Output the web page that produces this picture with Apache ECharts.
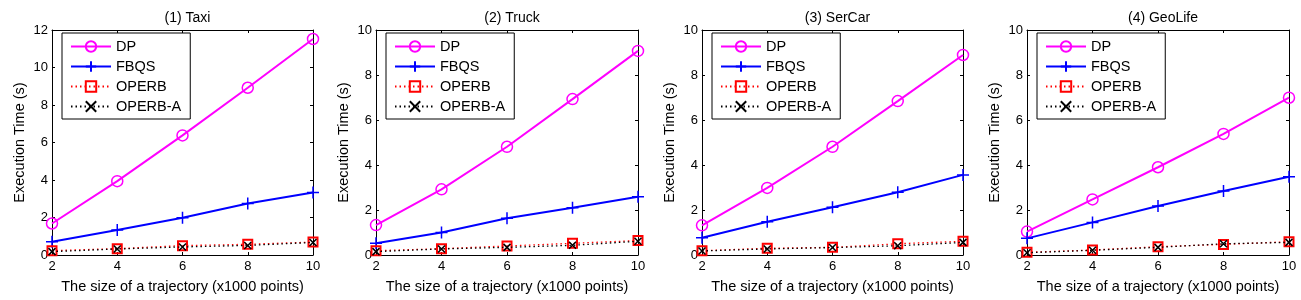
<!DOCTYPE html>
<html><head><meta charset="utf-8">
<script src="https://cdn.jsdelivr.net/npm/echarts@6/dist/echarts.min.js"></script>
<style>html,body{margin:0;padding:0;background:#fff}#c{width:1301px;height:300px}</style>
</head><body><div id="c"></div>
<script>
const xValues = [2, 4, 6, 8, 10];
const panelTitles = ['(1) Taxi', '(2) Truck', '(3) SerCar', '(4) GeoLife'];
const yMaxes = [12, 10, 10, 10];
const seriesNames = ['DP', 'FBQS', 'OPERB', 'OPERB-A'];
const dpTimes = [
  [1.68, 3.94, 6.38, 8.92, 11.52],
  [1.33, 2.92, 4.81, 6.93, 9.07],
  [1.32, 2.98, 4.81, 6.84, 8.89],
  [1.04, 2.47, 3.90, 5.38, 6.99]
];
const fbqsTimes = [
  [0.71, 1.33, 1.99, 2.75, 3.33],
  [0.52, 1.00, 1.63, 2.10, 2.59],
  [0.77, 1.48, 2.12, 2.79, 3.56],
  [0.74, 1.45, 2.18, 2.84, 3.48]
];
const operbTimes = [
  [0.23, 0.34, 0.50, 0.57, 0.69],
  [0.19, 0.28, 0.40, 0.52, 0.64],
  [0.19, 0.30, 0.34, 0.50, 0.61],
  [0.12, 0.22, 0.37, 0.47, 0.59]
];
const operbATimes = [
  [0.18, 0.32, 0.43, 0.51, 0.67],
  [0.15, 0.27, 0.34, 0.43, 0.61],
  [0.18, 0.27, 0.33, 0.41, 0.56],
  [0.10, 0.21, 0.34, 0.50, 0.56]
];
const xAxisName = 'The size of a trajectory (x1000 points)';
const yAxisName = 'Execution Time (s)';

const grids = [
  {left: 52, top: 30, width: 261, height: 225},
  {left: 376, top: 30, width: 262, height: 225},
  {left: 702, top: 30, width: 261, height: 225},
  {left: 1027, top: 30, width: 262, height: 225}
];
const FONT = 'Liberation Sans, Arial, sans-serif';
const styles = {
  'DP': {color: '#FF00FF', width: 2, type: 'solid', symbol: 'circle', size: 11},
  'FBQS': {color: '#0000FF', width: 2, type: 'solid', symbol: 'path://M0,-10L0,10M-10,0L10,0', size: 12},
  'OPERB': {color: '#FF0000', width: 1.3, type: [1.5, 3], symbol: 'rect', size: 9},
  'OPERB-A': {color: '#000000', width: 1.3, type: [1.5, 3], symbol: 'path://M-10,-10L10,10M-10,10L10,-10', size: 7}
};
const dataSets = [dpTimes, fbqsTimes, operbTimes, operbATimes];

const xAxes = [], yAxes = [], series = [], titles = [], legends = [];
grids.forEach((g, i) => {
  const common = {gridIndex: i, type: 'value', splitLine: {show: false},
    axisLine: {show: true, onZero: false, lineStyle: {color: '#000', width: 1}},
    axisTick: {show: true, inside: true, length: 3, lineStyle: {color: '#000'}}};
  xAxes.push(Object.assign({}, common, {position: 'bottom', min: 2, max: 10, interval: 2,
    name: xAxisName, nameLocation: 'middle', nameGap: 24,
    nameTextStyle: {fontFamily: FONT, fontSize: 14.5, color: '#000'},
    axisLabel: {fontFamily: FONT, fontSize: 13, color: '#000', margin: 5}}));
  xAxes.push(Object.assign({}, common, {position: 'top', min: 2, max: 10, interval: 2, axisLabel: {show: false}}));
  yAxes.push(Object.assign({}, common, {position: 'left', min: 0, max: yMaxes[i], interval: 2,
    name: yAxisName, nameLocation: 'middle', nameGap: 25,
    nameTextStyle: {fontFamily: FONT, fontSize: 14.5, color: '#000'},
    axisLabel: {fontFamily: FONT, fontSize: 13, color: '#000', margin: 4}}));
  yAxes.push(Object.assign({}, common, {position: 'right', min: 0, max: yMaxes[i], interval: 2, axisLabel: {show: false}}));
  titles.push({text: panelTitles[i], left: g.left + g.width / 2, top: 6, textAlign: 'center',
    textStyle: {fontFamily: FONT, fontSize: 14, fontWeight: 'normal', color: '#000'}});
  legends.push({data: seriesNames, orient: 'vertical', left: g.left + 10, top: 33,
    itemWidth: 40, itemHeight: 13, itemGap: 5, padding: [6, 9, 5, 8],
    borderColor: '#000', borderWidth: 1, backgroundColor: '#fff', selectedMode: false,
    textStyle: {fontFamily: FONT, fontSize: 14.5, color: '#000'}});
  seriesNames.forEach((name, k) => {
    const s = styles[name];
    series.push({
      name: name, type: 'line', xAxisIndex: 2 * i, yAxisIndex: 2 * i,
      data: xValues.map((x, j) => [x, dataSets[k][i][j]]),
      symbol: s.symbol, symbolSize: s.size, showSymbol: true,
      lineStyle: {color: s.color, width: s.width, type: s.type},
      itemStyle: {color: 'rgba(0,0,0,0)', borderColor: s.color, borderWidth: name === 'OPERB' ? 2 : 1.5},
      emphasis: {disabled: true}, animation: false, z: 2 + k
    });
  });
});

const chart = echarts.init(document.getElementById('c'), null, {renderer: 'canvas'});
chart.setOption({
  animation: false,
  backgroundColor: '#fff',
  title: titles,
  legend: legends,
  grid: grids,
  xAxis: xAxes,
  yAxis: yAxes,
  series: series
});
</script></body></html>
